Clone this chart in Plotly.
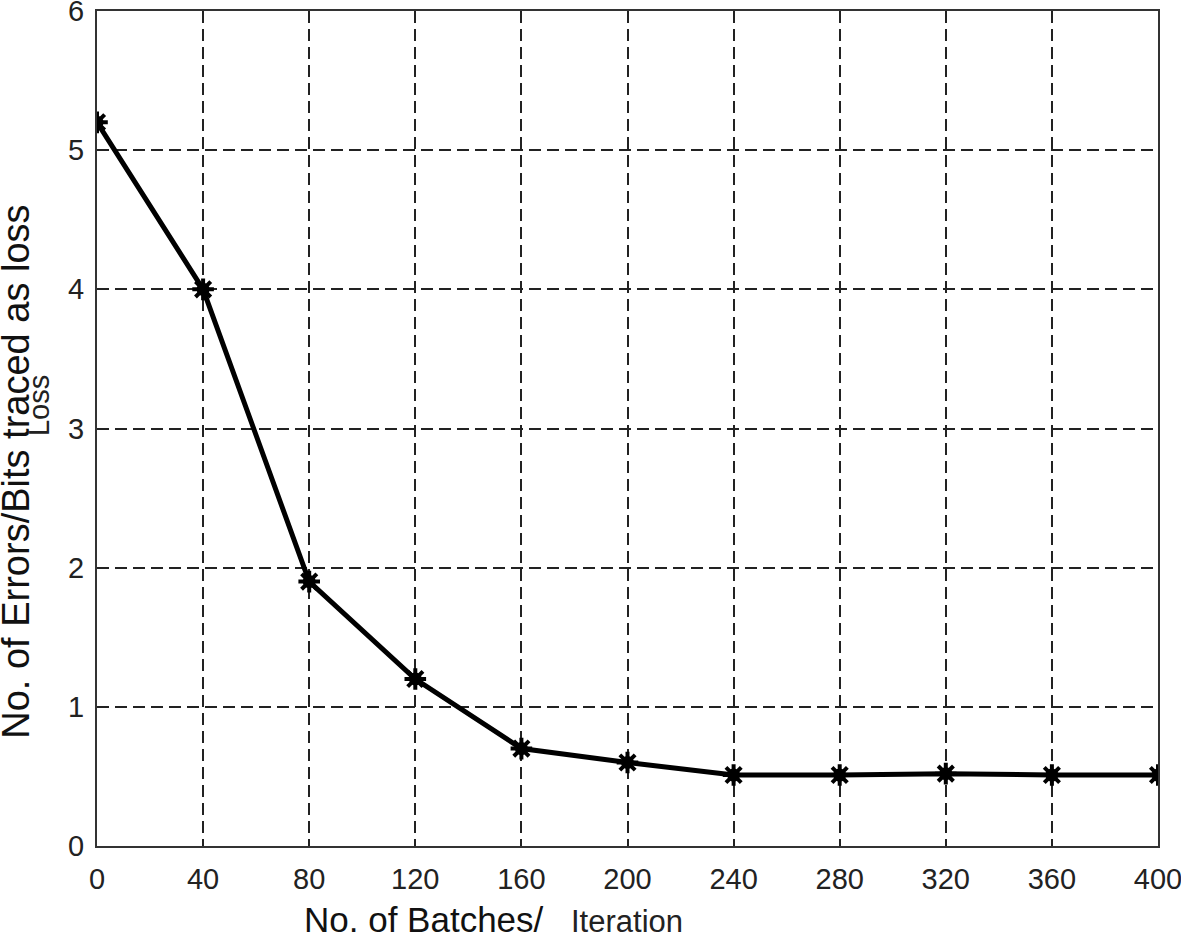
import plotly.graph_objects as go

# batches / iterations and traced loss
batches = [0, 40, 80, 120, 160, 200, 240, 280, 320, 360, 400]
loss = [5.2, 4.0, 1.9, 1.2, 0.7, 0.6, 0.51, 0.51, 0.52, 0.51, 0.51]
x_ticks = list(range(0, 401, 40))
y_ticks = [0, 1, 2, 3, 4, 5, 6]

fig = go.Figure()
fig.add_trace(go.Scatter(
    x=batches, y=loss, mode="lines+markers",
    line=dict(color="black", width=5),
    marker=dict(symbol="asterisk-open", size=18, color="black",
                line=dict(color="black", width=4)),
    showlegend=False,
))
fig.add_trace(go.Scatter(
    x=batches, y=loss, mode="markers",
    marker=dict(symbol="circle", size=13, color="black"),
    showlegend=False, hoverinfo="skip",
))

axis_common = dict(
    showgrid=True, gridcolor="#222", griddash="12px,6px", gridwidth=2,
    showline=True, linecolor="#333", linewidth=2, mirror=True,
    zeroline=False, ticks="", ticklabeloverflow="allow", automargin=False,
    tickfont=dict(family="Liberation Sans, Arial", size=29, color="#222"),
)
fig.update_xaxes(range=[0, 400], tickvals=x_ticks, ticklabelstandoff=6, **axis_common)
fig.update_yaxes(range=[0, 6], tickvals=y_ticks, ticklabelstandoff=5, **axis_common)

title_font = dict(family="Liberation Sans, Arial", size=35, color="#111")
fig.add_annotation(text="No. of Errors/Bits traced as loss", xref="paper", yref="paper",
                   x=-0.0765, y=0.448, textangle=-90, showarrow=False,
                   xanchor="center", yanchor="middle", font=dict(title_font, size=38))
fig.add_annotation(text="Loss", xref="paper", yref="paper",
                   x=-0.0547, y=0.528, textangle=-90, showarrow=False,
                   xanchor="center", yanchor="middle",
                   font=dict(family="Liberation Sans, Arial", size=29, color="#222"))
fig.add_annotation(text="No. of Batches/", xref="paper", yref="paper",
                   x=0.308, y=-0.088, showarrow=False,
                   xanchor="center", yanchor="middle", font=title_font)
fig.add_annotation(text="Iteration", xref="paper", yref="paper",
                   x=0.4995, y=-0.091, showarrow=False,
                   xanchor="center", yanchor="middle",
                   font=dict(family="Liberation Sans, Arial", size=31, color="#222"))

fig.update_layout(
    width=1181, height=938,
    margin=dict(l=97, r=23, t=11, b=92),
    plot_bgcolor="white", paper_bgcolor="white",
)

fig.write_html("out.html", config={"displayModeBar": False},
               post_script="document.body.style.margin='0';")
